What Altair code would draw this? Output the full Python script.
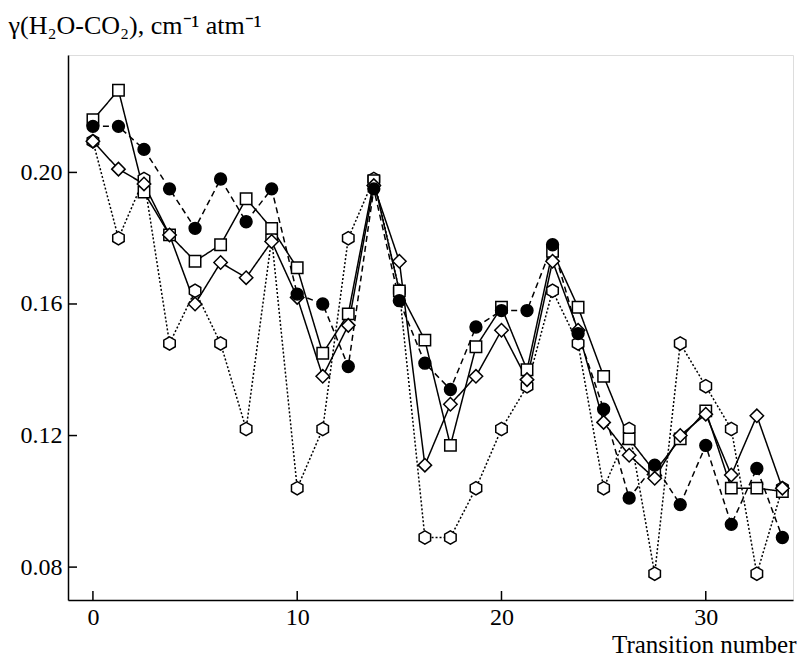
import altair as alt
import pandas as pd

# Transition positions (as plotted)
x_vals = [0, 1.25, 2.5, 3.75, 5, 6.25, 7.5, 8.75, 10, 11.25, 12.5, 13.75, 15, 16.25,
          17.5, 18.75, 20, 21.25, 22.5, 23.75, 25, 26.25, 27.5, 28.75, 30, 31.25, 32.5, 33.75]

# filled circles, dashed line
circles = [0.214, 0.214, 0.207, 0.195, 0.183, 0.198, 0.185, 0.195, 0.163, 0.160, 0.141, 0.195, 0.161, 0.142,
           0.134, 0.153, 0.158, 0.158, 0.178, 0.151, 0.128, 0.101, 0.111, 0.099, 0.117, 0.093, 0.110, 0.089]
# open squares, solid line
squares = [0.216, 0.225, 0.194, 0.181, 0.173, 0.178, 0.192, 0.183, 0.171, 0.145, 0.157, 0.1975, 0.164, 0.149,
           0.117, 0.147, 0.159, 0.140, 0.176, 0.159, 0.138, 0.119, 0.109, 0.119, 0.1275, 0.104, 0.104, 0.103]
# open diamonds, solid line
diamonds = [0.2095, 0.201, 0.1965, 0.181, 0.160, 0.1726, 0.168, 0.179, 0.162, 0.138, 0.1535, 0.196, 0.173, 0.111,
            0.1295, 0.138, 0.152, 0.137, 0.173, 0.152, 0.124, 0.114, 0.107, 0.120, 0.1265, 0.108, 0.126, 0.104]
# open hexagons, dotted line
hexagons = [0.2095, 0.180, 0.198, 0.148, 0.164, 0.148, 0.122, 0.180, 0.104, 0.122, 0.180, 0.198, 0.164, 0.089,
            0.089, 0.104, 0.122, 0.135, 0.164, 0.148, 0.104, 0.122, 0.078, 0.148, 0.135, 0.122, 0.078, 0.104]

x_ticks = [0, 10, 20, 30]
y_ticks = [0.08, 0.12, 0.16, 0.20]

series = [("hexagons", hexagons), ("squares", squares), ("diamonds", diamonds), ("circles", circles)]
rows = []
for name, ys in series:
    for x, y in zip(x_vals, ys):
        rows.append({"x": x, "y": y, "s": name})
df = pd.DataFrame(rows)

W, H = 725, 545
FONT = "Liberation Serif"
xscale = alt.Scale(domain=[-1.22, 34.27], nice=False, zero=False)
yscale = alt.Scale(domain=[0.070, 0.2357], nice=False, zero=False)

xaxis = alt.Axis(values=x_ticks, format="d", ticks=False, grid=False,
                 domainColor="black", domainWidth=1.5,
                 labelFont=FONT, labelFontSize=24, labelColor="black", labelPadding=5,
                 title="Transition number", titleFont=FONT, titleFontSize=25,
                 titleFontWeight="normal", titleColor="black",
                 titleAlign="right", titleBaseline="alphabetic",
                 titleX=728, titleY=52)
yaxis = alt.Axis(values=y_ticks, format=".2f", ticks=False, grid=False,
                 domainColor="black", domainWidth=1.5,
                 labelFont=FONT, labelFontSize=24, labelColor="black", labelPadding=6,
                 title="γ(H₂O-CO₂), cm⁻¹ atm⁻¹", titleFont=FONT, titleFontSize=26,
                 titleFontWeight="normal", titleColor="black", titleAngle=0,
                 titleAlign="left", titleBaseline="alphabetic",
                 titleX=-60, titleY=-22)

base = alt.Chart(df)

lines = base.mark_line(color="black", strokeWidth=1.5).encode(
    x=alt.X("x:Q", scale=xscale, axis=xaxis),
    y=alt.Y("y:Q", scale=yscale, axis=yaxis),
    detail="s:N",
    strokeDash=alt.StrokeDash("s:N", legend=None,
                              scale=alt.Scale(domain=["circles", "squares", "diamonds", "hexagons"],
                                              range=[[6, 4], [1, 0], [1, 0], [2, 2]])),
)

hex_path = "M0,-1L0.866,-0.5L0.866,0.5L0,1L-0.866,0.5L-0.866,-0.5Z"

def pts(name, shape, size, filled):
    m = base.transform_filter(alt.datum.s == name).mark_point(
        shape=shape, size=size, filled=True,
        fill="black" if filled else "white",
        stroke="black", strokeWidth=1.5, opacity=1)
    return m.encode(x=alt.X("x:Q", scale=xscale), y=alt.Y("y:Q", scale=yscale))

p_hex = pts("hexagons", hex_path, 175, False)
p_sq = pts("squares", "square", 130, False)
p_dia = pts("diamonds", "diamond", 180, False)
p_cir = pts("circles", "circle", 140, True)

xt = alt.Chart(pd.DataFrame({"t": x_ticks})).mark_rule(color="black", strokeWidth=1.5).encode(
    x=alt.X("t:Q", scale=xscale), y=alt.value(H), y2=alt.value(H - 9))
yt = alt.Chart(pd.DataFrame({"t": y_ticks})).mark_rule(color="black", strokeWidth=1.5).encode(
    y=alt.Y("t:Q", scale=yscale), x=alt.value(0), x2=alt.value(9))

chart = alt.layer(lines, p_hex, p_sq, p_dia, p_cir, xt, yt).properties(
    width=W, height=H,
    autosize=alt.AutoSizeParams(type="none"),
    padding={"left": 60, "top": 47, "right": 4, "bottom": 58},
).configure_view(stroke=None).configure(background="white")

chart.save("out.html", embed_options={"renderer": "svg", "actions": False})
